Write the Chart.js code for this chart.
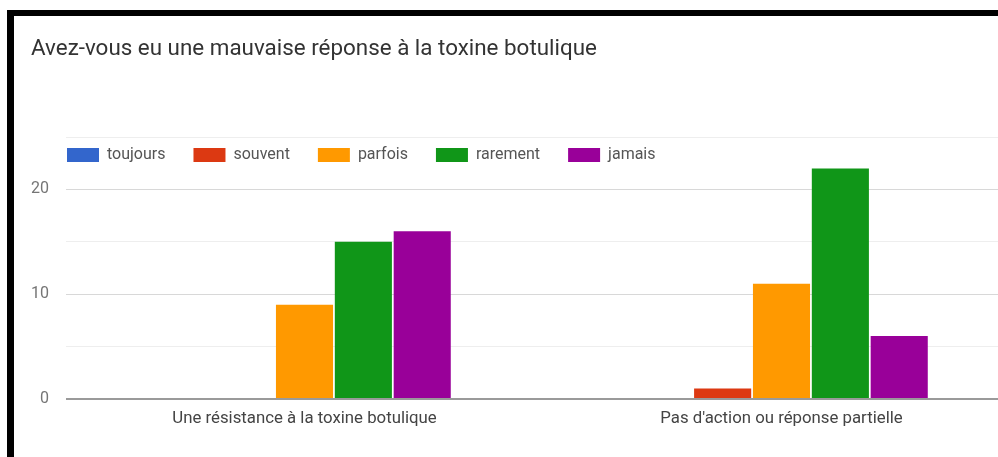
<!DOCTYPE html>
<html>
<head>
<meta charset="utf-8">
<script src="https://cdn.jsdelivr.net/npm/chart.js@4.4.1/dist/chart.umd.min.js"></script>
<style>
  html, body { margin: 0; padding: 0; background: #fff; overflow: hidden; width: 998px; height: 457px; }
  #wrap { position: absolute; left: 0; top: 0; width: 1040px; height: 457px; }
  .bar { position: absolute; background: #000; z-index: 2; }
  #title {
    position: absolute; left: 31px; top: 34px; z-index: 2;
    font-family: Roboto, "Noto Sans", sans-serif; font-size: 22.4px; color: #333;
    white-space: nowrap;
  }
</style>
</head>
<body>
<div class="bar" style="left:7px; top:10px; width:991px; height:6px;"></div>
<div class="bar" style="left:7px; top:10px; width:7px; height:447px;"></div>
<div id="title">Avez-vous eu une mauvaise réponse à la toxine botulique</div>
<div id="wrap"><canvas id="chart" width="1040" height="457"></canvas></div>
<script>
// réponses par catégorie
const categories = ["Une résistance à la toxine botulique", "Pas d'action ou réponse partielle"];
const seriesNames = ["toujours", "souvent", "parfois", "rarement", "jamais"];
const seriesColors = ["#3366cc", "#dc3912", "#ff9900", "#109618", "#990099"];
const toujours = [0, 0];
const souvent = [0, 1];
const parfois = [9, 11];
const rarement = [15, 22];
const jamais = [16, 6];
const yMax = 25;
const yStep = 5;

const values = [toujours, souvent, parfois, rarement, jamais];

const datasets = seriesNames.map((name, i) => ({
    label: name,
    data: values[i],
    backgroundColor: seriesColors[i],
    borderWidth: 0,
    barPercentage: 0.97,
    categoryPercentage: 0.617,
}));

const font = "Roboto, 'Noto Sans', sans-serif";

// la légende ne réserve que peu de hauteur (elle chevauche le haut du graphique),
// on lui rend sa vraie taille au moment du dessin pour éviter qu'elle soit coupée
const legendRoom = {
    id: "legendRoom",
    beforeDraw(chart) {
        const lg = chart.legend;
        lg.left = 39;
        lg.height = 60;
        lg.bottom = lg.top + 60;
    },
};

new Chart(document.getElementById("chart"), {
    type: "bar",
    data: { labels: categories, datasets },
    plugins: [legendRoom],
    options: {
        responsive: false,
        animation: false,
        layout: { padding: { left: 28, top: 119, right: 20, bottom: 28 } },
        plugins: {
            title: { display: false },
            tooltip: { enabled: false },
            legend: {
                position: "top",
                align: "start",
                maxHeight: 18,
                labels: {
                    boxWidth: 32,
                    boxHeight: 14,
                    padding: 28,
                    color: "#555",
                    font: { family: font, size: 16 },
                },
            },
        },
        scales: {
            x: {
                grid: { display: false, drawTicks: false },
                border: { display: false },
                ticks: { color: "#444", padding: 10, font: { family: font, size: 16.8 } },
                afterFit: s => { s.height = 30; },
            },
            y: {
                min: 0,
                max: yMax,
                border: { display: false },
                grid: {
                    drawTicks: false,
                    color: c => c.tick.value === 0 ? "#9a9a9a" : (c.tick.value % 10 === 0 ? "#d8d8d8" : "#eeeeee"),
                    lineWidth: c => c.tick.value === 0 ? 2 : 1,
                },
                ticks: {
                    stepSize: yStep,
                    padding: 17,
                    color: "#757575",
                    font: { family: font, size: 16 },
                    callback: v => v % 10 === 0 ? v : "",
                },
                afterFit: s => { s.width = 38; },
            },
        },
    },
});
</script>
</body>
</html>
